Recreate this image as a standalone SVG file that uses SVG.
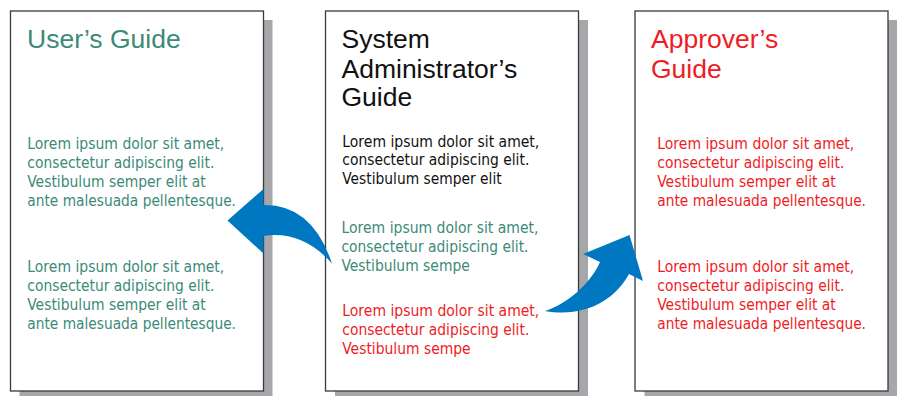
<svg xmlns="http://www.w3.org/2000/svg" width="897" height="396" viewBox="0 0 897 396">
<style>
.shadow{fill:#a6a7ab}
.page{fill:#ffffff;stroke:#3a3a3a;stroke-width:1.3}
.title{font-family:"Liberation Sans",Arial,sans-serif;font-size:26.5px}
.body text{font-family:"DejaVu Sans Condensed","DejaVu Sans",sans-serif;font-size:15.8px}
.teal{fill:#3c8a78}
.red{fill:#ee1c25}
.black{fill:#111111}
.arrow{fill:#0077c1}
</style>
<rect width="897" height="396" fill="#ffffff"/>
<g id="users-guide">
<rect class="shadow" x="19.5" y="20" width="253" height="380"/>
<rect class="page" x="10.5" y="11" width="253" height="380"/>
<text class="title teal" x="27" y="48">User’s Guide</text>
<g class="body teal">
<text x="27.3" y="149.3" textLength="197" lengthAdjust="spacingAndGlyphs">Lorem ipsum dolor sit amet,</text>
<text x="27.3" y="168.2" textLength="187" lengthAdjust="spacingAndGlyphs">consectetur adipiscing elit.</text>
<text x="27.3" y="187" textLength="178.5" lengthAdjust="spacingAndGlyphs">Vestibulum semper elit at</text>
<text x="27.3" y="206" textLength="208.7" lengthAdjust="spacingAndGlyphs">ante malesuada pellentesque.</text>
<text x="27.3" y="272" textLength="197" lengthAdjust="spacingAndGlyphs">Lorem ipsum dolor sit amet,</text>
<text x="27.3" y="291" textLength="187" lengthAdjust="spacingAndGlyphs">consectetur adipiscing elit.</text>
<text x="27.3" y="310" textLength="178.5" lengthAdjust="spacingAndGlyphs">Vestibulum semper elit at</text>
<text x="27.3" y="329" textLength="208.7" lengthAdjust="spacingAndGlyphs">ante malesuada pellentesque.</text>
</g>
</g>
<g id="sysadmin-guide">
<rect class="shadow" x="335" y="20" width="253" height="380"/>
<rect class="page" x="325.5" y="11" width="253" height="380"/>
<text class="title black"><tspan x="341.5" y="48.3">System</tspan><tspan x="341.5" y="77.5">Administrator’s</tspan><tspan x="341.5" y="106">Guide</tspan></text>
<g class="body black">
<text x="342.3" y="146.7" textLength="197" lengthAdjust="spacingAndGlyphs">Lorem ipsum dolor sit amet,</text>
<text x="342.3" y="165.3" textLength="187" lengthAdjust="spacingAndGlyphs">consectetur adipiscing elit.</text>
<text x="342.3" y="184" textLength="159.4" lengthAdjust="spacingAndGlyphs">Vestibulum semper elit</text>
</g>
<g class="body teal">
<text x="341.5" y="233.3" textLength="197" lengthAdjust="spacingAndGlyphs">Lorem ipsum dolor sit amet,</text>
<text x="341.5" y="252" textLength="187" lengthAdjust="spacingAndGlyphs">consectetur adipiscing elit.</text>
<text x="341.5" y="270.8" textLength="128.3" lengthAdjust="spacingAndGlyphs">Vestibulum sempe</text>
</g>
<g class="body red">
<text x="342.3" y="315.8" textLength="197" lengthAdjust="spacingAndGlyphs">Lorem ipsum dolor sit amet,</text>
<text x="342.3" y="334.8" textLength="187" lengthAdjust="spacingAndGlyphs">consectetur adipiscing elit.</text>
<text x="342.3" y="353.5" textLength="128.3" lengthAdjust="spacingAndGlyphs">Vestibulum sempe</text>
</g>
</g>
<g id="approvers-guide">
<rect class="shadow" x="644.5" y="20" width="253" height="380"/>
<rect class="page" x="635" y="11" width="253" height="380"/>
<text class="title red"><tspan x="651" y="48.3">Approver’s</tspan><tspan x="651" y="77.5">Guide</tspan></text>
<g class="body red">
<text x="657.3" y="149.3" textLength="197" lengthAdjust="spacingAndGlyphs">Lorem ipsum dolor sit amet,</text>
<text x="657.3" y="168.2" textLength="187" lengthAdjust="spacingAndGlyphs">consectetur adipiscing elit.</text>
<text x="657.3" y="187" textLength="178.5" lengthAdjust="spacingAndGlyphs">Vestibulum semper elit at</text>
<text x="657.3" y="206" textLength="208.7" lengthAdjust="spacingAndGlyphs">ante malesuada pellentesque.</text>
<text x="657.3" y="272" textLength="197" lengthAdjust="spacingAndGlyphs">Lorem ipsum dolor sit amet,</text>
<text x="657.3" y="291" textLength="187" lengthAdjust="spacingAndGlyphs">consectetur adipiscing elit.</text>
<text x="657.3" y="310" textLength="178.5" lengthAdjust="spacingAndGlyphs">Vestibulum semper elit at</text>
<text x="657.3" y="329" textLength="208.7" lengthAdjust="spacingAndGlyphs">ante malesuada pellentesque.</text>
</g>
</g>
<g id="connectors">
<path class="arrow" d="M227.5,220.5 L263.5,189 L263.5,205 Q312,204 332,263.5 Q302,230 263.5,236 L263.5,253.5 Z"/>
<path class="arrow" d="M545,311 C565,305 590,285 600,262 L583,254 L629.5,235 L643,281 L629,274 C615,300 585,318 545,311 Z"/>
</g>
</svg>
